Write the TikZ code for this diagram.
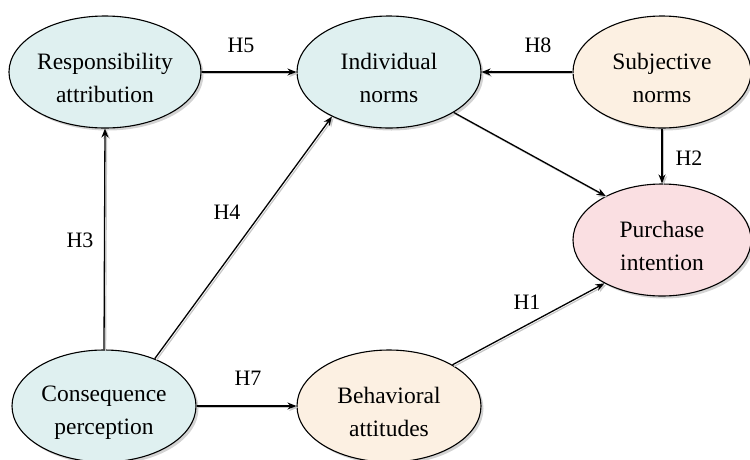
\documentclass[tikz,border=0pt]{standalone}
\usepackage{fontspec}
\setmainfont{Liberation Serif}
\usetikzlibrary{shapes.geometric,arrows.meta,shadows}
\definecolor{cyanfill}{HTML}{DFF0F0}
\definecolor{beigefill}{HTML}{FCF0E2}
\definecolor{pinkfill}{HTML}{FADFE2}
\newcommand{\lowr}{\rule{0pt}{28pt}}
\tikzset{
  ell/.style={ellipse, draw=black, line width=1.1pt, minimum width=184pt, minimum height=112pt,
    inner sep=0pt, align=center, font=\fontsize{23.5}{33}\selectfont,
    drop shadow={shadow xshift=2.5pt, shadow yshift=-2.5pt, opacity=0.35, fill=gray}},
  conn/.style={line width=1.3pt, draw=black, -{Stealth[length=9pt,width=7pt]},
    preaction={draw=gray!45, line width=1.2pt, transform canvas={shift={(1.6pt,-1.6pt)}}}},
  hlab/.style={font=\fontsize{22}{26}\selectfont, inner sep=0pt}
}
\begin{document}
\begin{tikzpicture}[x=1pt,y=-1pt]
\useasboundingbox (0,0) rectangle (750,459);
\node[ell, fill=cyanfill] (resp) at (105,72) {\lowr Responsibility\\attribution};
\node[ell, fill=cyanfill] (ind) at (389,72) {\lowr Individual\\norms};
\node[ell, fill=beigefill, minimum width=178pt] (subj) at (662,72) {\lowr Subjective\\norms};
\node[ell, fill=pinkfill, minimum width=178pt] (pur) at (662,240) {\lowr Purchase\\intention};
\node[ell, fill=cyanfill] (cons) at (104,406) {\lowr Consequence\\perception};
\node[ell, fill=beigefill] (beh) at (389,406) {\lowr Behavioral\\attitudes};

\draw[conn] (resp.east) -- (ind.west);
\draw[conn] (subj.west) -- (ind.east);
\draw[conn] (ind.-32) -- (pur.142);
\draw[conn] (subj.south) -- (pur.north);
\draw[conn] (beh.33) -- (pur.217);
\draw[conn] (cons.north) -- (resp.south);
\draw[conn] (cons.43) -- (ind.218);
\draw[conn] (cons.east) -- (beh.west);

\node[hlab] (h5) at (241,45) {H5};
\node[hlab] (h8) at (538,45) {H8};
\node[hlab] (h2) at (689,158) {H2};
\node[hlab] (h1) at (527,302) {H1};
\node[hlab] (h3) at (80,240) {H3};
\node[hlab] (h4) at (227,212) {H4};
\node[hlab] (h7) at (248,378) {H7};
\end{tikzpicture}
\end{document}
